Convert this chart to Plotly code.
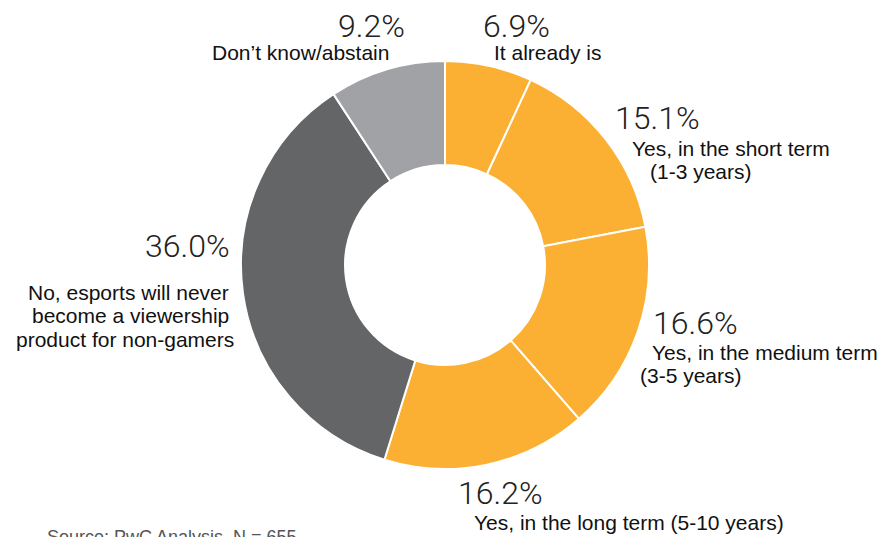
"""
Donut chart: will esports become a viewership product for non-gamers?
"""

import plotly.graph_objects as go

W, H = 885, 537

# ── data ─────────────────────────────────────────────
answers = [
    "It already is",
    "Yes, in the short term (1-3 years)",
    "Yes, in the medium term (3-5 years)",
    "Yes, in the long term (5-10 years)",
    "No, esports will never become a viewership product for non-gamers",
    "Don't know/abstain",
]
shares = [6.9, 15.1, 16.6, 16.2, 36.0, 9.2]
slice_colors = ["#FBB034", "#FBB034", "#FBB034", "#FBB034", "#646567", "#A1A2A5"]
source_note = "Source: PwC Analysis, N = 655"


def px(x, y):
    # pixel position -> paper coords
    return x / W, (H - y) / H


# donut centre and radius in pixels
cx, cy, r = 445, 265, 204
x0, y0 = px(cx - r, cy + r)
x1, y1 = px(cx + r, cy - r)

fig = go.Figure()
fig.add_trace(go.Pie(
    labels=answers,
    values=shares,
    sort=False,
    direction="clockwise",
    rotation=0,
    hole=0.49,
    marker=dict(colors=slice_colors, line=dict(color="white", width=2)),
    textinfo="none",
    hoverinfo="label+value",
    domain=dict(x=[x0, x1], y=[y0, y1]),
    showlegend=False,
))

# percentage labels (pixel x, pixel y), same order as shares
pct_pos = [(516, 26), (657, 118), (695, 323), (500, 493), (187, 246), (371, 26)]
for v, (x, y) in zip(shares, pct_pos):
    ax, ay = px(x, y)
    fig.add_annotation(
        text=f"{v:.1f}%", x=ax, y=ay, xref="paper", yref="paper",
        xanchor="center", yanchor="middle", showarrow=False,
        font=dict(size=32, color="#222222", family="Roboto, Liberation Sans, Arial", weight=300),
    )

# category label lines (text, pixel x, pixel y, anchor)
label_pos = [
    ("It already is", 547, 52, "center"),
    ("Yes, in the short term", 630, 148, "left"),
    ("(1-3 years)", 648, 171, "left"),
    ("Yes, in the medium term", 650, 352, "left"),
    ("(3-5 years)", 638, 375, "left"),
    ("Yes, in the long term (5-10 years)", 472, 522, "left"),
    ("No, esports will never", 128, 292, "center"),
    ("become a viewership", 130, 315.5, "center"),
    ("product for non-gamers", 125, 339, "center"),
    ("Don’t know/abstain", 300, 52, "center"),
]
for txt, x, y, anchor in label_pos:
    ax, ay = px(x, y)
    fig.add_annotation(
        text=txt, x=ax, y=ay, xref="paper", yref="paper",
        xanchor=anchor, yanchor="middle", showarrow=False,
        font=dict(size=21, color="#111111"),
    )

# source line, cut off by the bottom edge as in the original
sx, sy = px(45, 525)
fig.add_annotation(
    text=source_note, x=sx, y=sy, xref="paper", yref="paper",
    xanchor="left", yanchor="top", showarrow=False,
    font=dict(size=18, color="#555555"),
)

fig.update_layout(
    width=W,
    height=H,
    margin=dict(t=0, b=0, l=0, r=0),
    paper_bgcolor="white",
    plot_bgcolor="white",
    font=dict(family="Liberation Sans, Arial, Helvetica, sans-serif"),
)

# drop the default page margin so the figure sits at the window's corner
fig.write_html(
    "out.html",
    config={"displayModeBar": False},
    post_script="document.body.style.margin='0';",
)
